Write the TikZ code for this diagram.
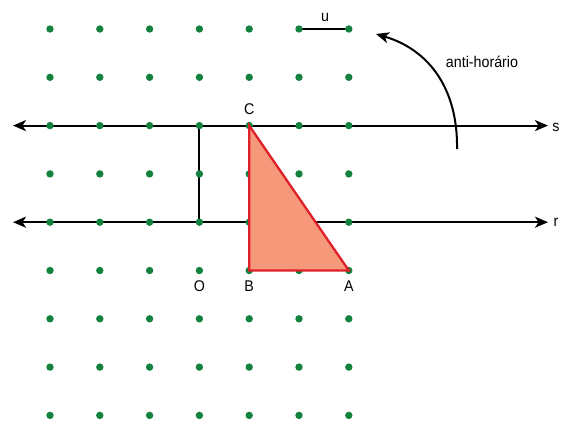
\documentclass[tikz,border=0pt]{standalone}
\usepackage{fontspec}
\setmainfont{Liberation Sans}[FakeStretch=0.92]
\usetikzlibrary{arrows.meta}
\definecolor{dotgreen}{RGB}{18,130,62}
\definecolor{trifill}{RGB}{246,152,122}
\definecolor{trired}{RGB}{222,32,40}
\tikzset{
  dotst/.style={fill=dotgreen},
  lineax/.style={line width=2pt,{Stealth[length=13pt,width=11pt,inset=3.5pt]}-{Stealth[length=13pt,width=11pt,inset=3.5pt]}},
  lbl/.style={font=\fontsize{15.5}{17}\selectfont, inner sep=0pt},
  tri/.style={draw=trired,fill=trifill,line width=2.3pt,line join=miter}
}
\begin{document}
\begin{tikzpicture}[x=1pt,y=-1pt]
\useasboundingbox (0,0) rectangle (569,434);
% grid coordinates
\foreach \i in {0,...,6}{
  \foreach \j in {0,...,8}{
    \coordinate (p-\i-\j) at ({50+49.8*\i},{29+48.3*\j});
  }
}
\coordinate (sL) at (13,125.6);
\coordinate (sR) at (548,125.6);
\coordinate (rL) at (13,222.2);
\coordinate (rR) at (548,222.2);
% lines
\draw[lineax] (sL) -- (sR);
\draw[lineax] (rL) -- (rR);
\draw[line width=2pt] (p-3-2) -- (p-3-4);
\draw[line width=2pt] (p-5-0) -- (p-6-0);
% dots
\foreach \i in {0,...,6}{
  \foreach \j in {0,...,8}{
    \fill[dotst] (p-\i-\j) circle (3.7pt);
  }
}
% triangle
\draw[tri] (p-4-2) -- (p-4-5) -- (p-6-5) -- cycle;
% labels
\node[lbl] (lC) at (249.2,109) {C};
\node[lbl] (lO) at (199.4,286) {O};
\node[lbl] (lB) at (249.2,286) {B};
\node[lbl] (lA) at (348.8,286) {A};
\node[lbl] (lu) at (325,17) {u};
\node[lbl] (ls) at (556,127) {s};
\node[lbl] (lr) at (556,222) {r};
\node[lbl] (lanti) at (482,62) {anti-horário};
% rotation arrow
\coordinate (rotS) at (457,149);
\coordinate (rotE) at (376,34);
\draw[line width=2pt,-{Stealth[length=13pt,width=11pt,inset=3.5pt]}] (rotS) .. controls (458,90) and (430,50) .. (rotE);
\end{tikzpicture}
\end{document}
